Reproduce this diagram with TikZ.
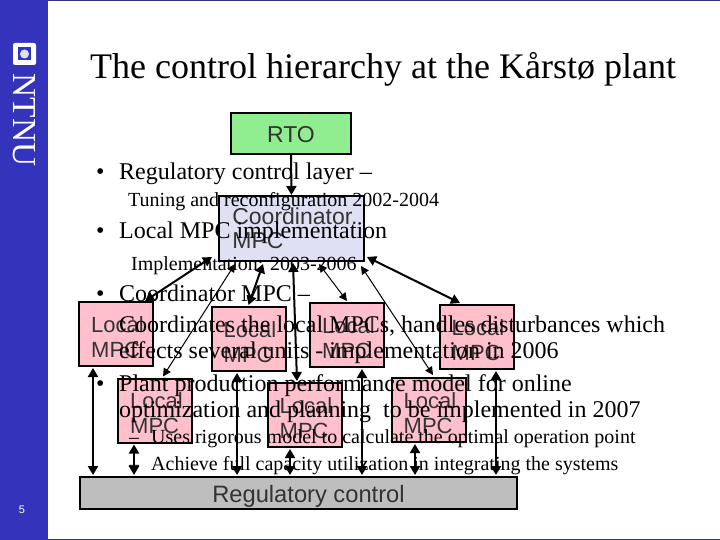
\documentclass[tikz,border=0pt]{standalone}
\usepackage{fontspec}
\setmainfont{Liberation Serif}
\newfontfamily\arialfont{Liberation Sans}
\usetikzlibrary{arrows.meta}
\definecolor{sidebar}{HTML}{3333BB}
\definecolor{edgeblue}{HTML}{333388}
\definecolor{rtogreen}{HTML}{90EE90}
\definecolor{coordblue}{HTML}{E0E0F5}
\definecolor{mpcpink}{HTML}{FFC0CB}
\definecolor{reggrey}{HTML}{BEBEBE}
\definecolor{labelgrey}{HTML}{333333}
\newcommand\lmpc{\rule{0pt}{22pt}\hspace*{3pt}Local\\\hspace*{3pt}MPC}
\tikzset{
  boxbase/.style={draw=black,line width=2pt,inner sep=0pt,align=left,text=labelgrey,font=\arialfont},
  rtobox/.style={boxbase,fill=rtogreen,minimum width=120pt,minimum height=41pt,font=\arialfont\fontsize{23}{24}\selectfont},
  coordbox/.style={boxbase,fill=coordblue,minimum width=145pt,minimum height=65pt,font=\arialfont\fontsize{23}{24}\selectfont},
  mpcbox/.style={boxbase,fill=mpcpink,minimum width=74pt,minimum height=64pt,font=\arialfont\fontsize{22}{25}\selectfont},
  regbox/.style={boxbase,fill=reggrey,minimum width=437pt,minimum height=32pt,font=\arialfont\fontsize{23.7}{26}\selectfont},
  bigtext/.style={anchor=base west,inner sep=0pt,font=\fontsize{24}{26}\selectfont},
  smalltext/.style={anchor=base west,inner sep=0pt,font=\fontsize{20}{22}\selectfont},
  titletext/.style={anchor=base west,inner sep=0pt,font=\fontsize{36}{40}\selectfont},
  link/.style={line width=2pt,{Triangle[length=9pt,width=10pt]}-{Triangle[length=9pt,width=10pt]}},
  thinlink/.style={line width=1pt,{Triangle[length=8pt,width=8pt]}-{Triangle[length=8pt,width=8pt]}},
  oneway/.style={line width=2pt,-{Triangle[length=9pt,width=10pt]}}
}
\begin{document}
\begin{tikzpicture}[x=1pt,y=-1pt]
\useasboundingbox (0,0) rectangle (720,540);
\fill[white] (0,0) rectangle (720,540);
\fill[edgeblue] (0,0) rectangle (720,1);
\fill[edgeblue] (0,538.5) rectangle (720,540);
\fill[sidebar] (0,0) rectangle (48,540);
% logo
\fill[white,rounded corners=2pt] (13,43) rectangle (36,65);
\fill[sidebar] (18,47.5) rectangle (31,60.5);
\fill[coordblue] (24.5,54) circle (4.5pt);
\node[rotate=-90,text=white,inner sep=0pt,font=\fontsize{33.5}{34}\selectfont] (ntnu) at (24.5,120) {NTNU};
\node[text=white,inner sep=0pt,font=\arialfont\fontsize{11}{12}\selectfont] (pagenum) at (22,510) {5};
% boxes
\node[rtobox] (rto) at (291,133.5) {\rule{0pt}{18pt}RTO};
\node[coordbox] (coord) at (291.5,228.5) {\hspace*{7pt}Coordinator.\\\hspace*{7pt}MPC};
\node[mpcbox] (a) at (116,334) {\lmpc};
\node[mpcbox] (b) at (248.5,339) {\lmpc};
\node[mpcbox] (c) at (347,335) {\lmpc};
\node[mpcbox] (d) at (476.5,337) {\lmpc};
\node[mpcbox] (e) at (155,410.5) {\lmpc};
\node[mpcbox] (f) at (304.5,415) {\lmpc};
\node[mpcbox] (g) at (428.5,410) {\lmpc};
\node[regbox] (reg) at (298.5,493) {\rule{0pt}{23pt}\hspace*{20pt}Regulatory control};
% connectors
\draw[oneway] (rto.south) -- (coord.north);
\draw[link] ([shift={(-6,-5)}]coord.south west) -- ([shift={(29,0)}]a.north);
\draw[thinlink] ([shift={(17,2)}]coord.south west) -- ([shift={(8,-1)}]e.north);
\draw[link] ([shift={(45,2)}]coord.south west) -- ([shift={(0,-1)}]b.north);
\draw[link] ([shift={(1.5,1)}]coord.south) -- ([shift={(-7.5,-1)}]f.north);
\draw[thinlink] ([shift={(27.5,2)}]coord.south) -- ([shift={(0,-1)}]c.north);
\draw[thinlink] ([shift={(-4,4)}]coord.south east) -- ([shift={(4.5,-2)}]g.north);
\draw[link] ([shift={(2,-5)}]coord.south east) -- ([shift={(-16.5,-1)}]d.north);
\draw[link] ([shift={(-23,1)}]a.south) -- ([shift={(-205.5,-1)}]reg.north);
\draw[link] ([shift={(-21,1)}]e.south) -- ([shift={(-164.5,-1)}]reg.north);
\draw[link] ([shift={(-11.5,1)}]b.south) -- ([shift={(-61.5,-1)}]reg.north);
\draw[link] ([shift={(-14.5,1)}]f.south) -- ([shift={(-8.5,-1)}]reg.north);
\draw[link] ([shift={(15,1)}]c.south) -- ([shift={(63.5,-1)}]reg.north);
\draw[link] ([shift={(-13.5,1)}]g.south) -- ([shift={(116.5,-1)}]reg.north);
\draw[link] ([shift={(19.5,1)}]d.south) -- ([shift={(197.5,-1)}]reg.north);
% texts
\node[titletext] (title) at (90,79) {The control hierarchy at the Kårstø plant};
\node[bigtext] (b1) at (96,180) {•};
\node[bigtext] (t1) at (119,180) {Regulatory control layer –};
\node[smalltext] (t2) at (128,207) {Tuning and reconfiguration 2002-2004};
\node[bigtext] (b2) at (96,238) {•};
\node[bigtext] (t3) at (119,238) {Local MPC implementation};
\node[smalltext] (t4) at (131,270) {Implementation: 2003-2006};
\node[bigtext] (b3) at (96,301) {•};
\node[bigtext] (t5) at (119,301) {Coordinator MPC –};
\node[bigtext] (t6) at (119,332) {Coordinates the local MPCs, handles disturbances which};
\node[bigtext] (t7) at (119,358) {effects several units - implementation in 2006};
\node[bigtext] (b4) at (96,391) {•};
\node[bigtext] (t8) at (119,391) {Plant production performance model for online};
\node[bigtext] (t9) at (119,417) {optimization and planning\ \ to be implemented in 2007};
\node[smalltext] (d1) at (129,443) {–};
\node[smalltext] (t10) at (151,443) {Uses rigorous model to calculate the optimal operation point};
\node[smalltext] (d2) at (129,470) {–};
\node[smalltext] (t11) at (151,470) {Achieve full capacity utilization in integrating the systems};
\end{tikzpicture}
\end{document}
